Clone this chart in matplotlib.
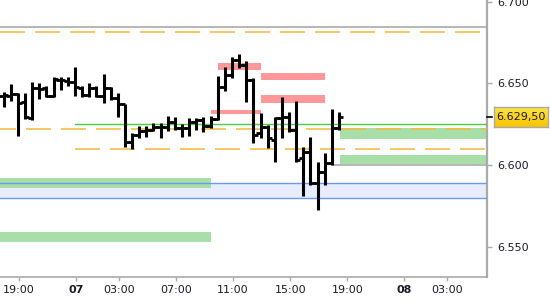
import matplotlib
matplotlib.use("Agg")
import matplotlib.pyplot as plt
from matplotlib.transforms import blended_transform_factory
from matplotlib.colors import LinearSegmentedColormap
import numpy as np

plt.rcParams['lines.scale_dashes'] = False

# ---- data (30-minute OHLC bars, ES futures) ----
bar_index = list(range(48))
opens = [6642.25, 6642.25, 6643.50, 6638.50, 6628.75, 6647.25, 6647.25, 6642.25, 6652.00, 6651.50,
         6651.00, 6647.25, 6643.00, 6647.25, 6642.25, 6647.25, 6641.00, 6637.50, 6614.00, 6618.50,
         6620.75, 6621.50, 6623.25, 6623.25, 6626.25, 6622.75, 6622.75, 6626.25, 6627.50, 6624.00,
         6628.25, 6647.75, 6655.25, 6664.50, 6661.25, 6652.00, 6619.50, 6623.25, 6615.25, 6628.75,
         6629.50, 6621.50, 6604.25, 6608.00, 6589.00, 6595.75, 6601.25, 6622.75]
highs = [6644.75, 6649.75, 6644.25, 6644.25, 6651.00, 6650.25, 6648.50, 6654.00, 6654.00, 6654.00,
         6660.00, 6648.50, 6650.25, 6648.50, 6655.75, 6647.75, 6644.25, 6637.50, 6619.50, 6624.00,
         6624.00, 6625.75, 6625.75, 6630.00, 6629.50, 6625.25, 6628.75, 6628.75, 6629.50, 6630.00,
         6654.50, 6660.00, 6666.25, 6668.00, 6663.75, 6653.25, 6631.75, 6624.50, 6629.50, 6641.75,
         6632.50, 6639.25, 6611.00, 6617.25, 6601.75, 6607.25, 6634.25, 6632.50]
lows = [6635.50, 6639.25, 6617.75, 6628.25, 6627.50, 6640.50, 6641.75, 6641.75, 6646.00, 6648.50,
        6642.25, 6641.75, 6641.75, 6641.75, 6638.00, 6639.75, 6629.50, 6611.00, 6609.75, 6616.50,
        6617.25, 6620.75, 6616.50, 6620.75, 6621.50, 6617.25, 6617.75, 6621.50, 6620.25, 6622.75,
        6627.50, 6645.25, 6653.25, 6659.50, 6638.50, 6613.50, 6616.50, 6610.50, 6601.75, 6616.50,
        6620.25, 6601.75, 6581.00, 6587.75, 6572.25, 6587.75, 6600.00, 6621.50]
closes = [6643.00, 6643.50, 6638.00, 6629.50, 6647.25, 6646.50, 6642.25, 6652.75, 6652.00, 6651.00,
          6647.75, 6643.00, 6647.25, 6642.25, 6647.25, 6641.00, 6637.50, 6614.00, 6618.50, 6620.75,
          6621.50, 6623.25, 6623.25, 6626.25, 6622.75, 6622.75, 6626.25, 6627.50, 6624.00, 6628.25,
          6647.75, 6655.25, 6664.50, 6661.25, 6652.00, 6618.50, 6623.25, 6616.50, 6628.75, 6629.50,
          6621.50, 6603.00, 6608.00, 6589.00, 6595.75, 6601.25, 6622.75, 6629.50]
last_price = 6629.50

# time axis in trading hours since 17:00 (session break skipped)
first_bar_hour = 0.92
bar_step_hours = 0.5
tick_hours = [2, 6, 9, 13, 17, 21, 25, 29, 32]
tick_labels = ['19:00', '07', '03:00', '07:00', '11:00', '15:00', '19:00', '08', '03:00']
bold_labels = ['07', '08']
y_ticks = [6550, 6600, 6650, 6700]
x_range = (0.666, 34.79)
y_range = (6531.3, 6701.2)

# zones: (start hour, end hour, low price, high price)
red_zones = [(15.94, 18.96, 6658.25, 6662.55),
             (18.96, 23.44, 6652.10, 6656.40),
             (18.96, 23.44, 6638.00, 6642.90),
             (15.45, 18.96, 6631.30, 6633.70)]
green_zones = [(24.49, 34.79, 6615.90, 6622.70),
               (24.49, 34.79, 6600.60, 6606.10),
               (0.666, 15.45, 6585.90, 6592.00),
               (0.666, 15.45, 6552.70, 6558.90)]
blue_band = (6579.70, 6588.90)
# lines: (start hour, price, dash offset in points)
orange_levels = [(0.666, 6681.6, 0), (0.666, 6622.0, 6.5), (5.92, 6609.8, 0)]
gray_levels = [(0.666, 6684.6), (24.0, 6600.3)]
green_level = (5.92, 6625.1)

# ---- figure ----
fig = plt.figure(figsize=(5.5, 3), dpi=100)
fig.patch.set_facecolor('white')
ax = fig.add_axes([0, 23 / 300, 487 / 550, 277 / 300])
ax.set_xlim(*x_range)
ax.set_ylim(*y_range)

xmax = x_range[1]
ax.axhspan(blue_band[0], blue_band[1], color='#e7edff', zorder=1, lw=0)
for z in red_zones:
    ax.fill_between([z[0], z[1]], z[2], z[3], color='#ff9999', lw=0, zorder=2)
for z in green_zones:
    ax.fill_between([z[0], z[1]], z[2], z[3], color='#a8dfa8', lw=0, zorder=2)
for p in blue_band:
    ax.axhline(p, color='#6b9bef', lw=1.0, zorder=3)

for x0, p, off in orange_levels:
    ln, = ax.plot([x0, xmax], [p, p], color='#f5b83c', lw=1.1, zorder=3)
    ln.set_linestyle((off, (18, 7.2)))
for x0, p in gray_levels:
    ax.plot([x0, xmax], [p, p], color='#aaaaaa', lw=1.2, zorder=3)
ax.plot([green_level[0], xmax], [green_level[1]] * 2, color='#4ccc3c', lw=1.0, zorder=3)

# OHLC bars
xs = [first_bar_hour + bar_step_hours * i for i in bar_index]
tk = 0.3
ax.vlines(xs, lows, highs, colors='black', linewidth=2.2, capstyle='butt', zorder=5)
ax.hlines(opens, [x - tk for x in xs], xs, colors='black', linewidth=2.0, capstyle='butt', zorder=5)
ax.hlines(closes, xs, [x + tk for x in xs], colors='black', linewidth=2.0, capstyle='butt', zorder=5)

# axes styling
for s in ['left', 'top']:
    ax.spines[s].set_visible(False)
ax.spines['right'].set_color('#aaaaaa')
ax.spines['right'].set_linewidth(1.6)
ax.spines['bottom'].set_color('#aaaaaa')
ax.spines['bottom'].set_linewidth(1.2)
ax.yaxis.tick_right()
ax.set_yticks(y_ticks)
ax.set_yticklabels([f"{v:,.0f}".replace(',', '.') for v in y_ticks])
ax.tick_params(axis='y', length=3.5, width=1, color='#aaaaaa', pad=4, labelsize=8,
               labelcolor='#1a1a28')
ax.set_xticks(tick_hours)
ax.set_xticklabels(tick_labels)
ax.tick_params(axis='x', length=3, width=1, color='#aaaaaa', pad=2.5, labelsize=8,
               labelcolor='#1a1a28')
for lbl in ax.get_xticklabels():
    if lbl.get_text() in bold_labels:
        lbl.set_fontweight('bold')

# last price marker & label
trans = blended_transform_factory(ax.transAxes, ax.transData)
ax.plot([1.0, 1.011], [last_price, last_price], color='black', lw=1.2, transform=trans,
        clip_on=False, zorder=6)
fig.canvas.draw()
_, ypix = ax.transData.transform((xmax, last_price))
h = 20
box_ax = fig.add_axes([494 / 550, (ypix - h / 2) / 300, 54 / 550, h / 300])
grad = np.linspace(0, 1, 50).reshape(-1, 1)
cmap = LinearSegmentedColormap.from_list('gold', ['#ffe545', '#f7c400'])
box_ax.imshow(grad, aspect='auto', cmap=cmap, extent=[0, 1, 0, 1], origin='upper')
box_ax.set_xticks([])
box_ax.set_yticks([])
for s in box_ax.spines.values():
    s.set_color('#aaaaaa')
    s.set_linewidth(1.0)
price_txt = f"{last_price:,.2f}".replace(',', 'X').replace('.', ',').replace('X', '.')
box_ax.text(0.5, 0.5, price_txt, ha='center', va='center', fontsize=8, color='#1a1a28',
            transform=box_ax.transAxes)

fig.savefig('out.png', dpi=100, facecolor='white')
